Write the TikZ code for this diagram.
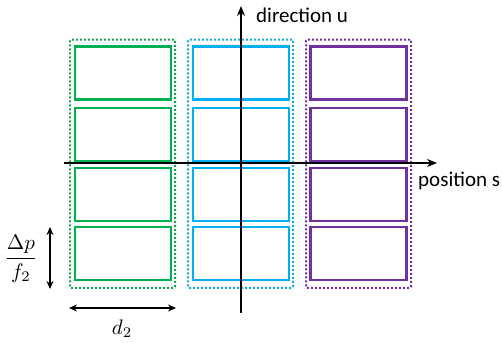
\documentclass[tikz,border=0pt]{standalone}
\usepackage{amsmath}
\usepackage{fontspec}
\setmainfont{Carlito}
\usetikzlibrary{arrows.meta}
\definecolor{cgreen}{RGB}{0,176,80}
\definecolor{cblue}{RGB}{0,176,240}
\definecolor{cpurple}{RGB}{112,48,160}
\begin{document}
\begin{tikzpicture}[x=1pt,y=-1pt,
  cell/.style={draw, line width=2.5pt, minimum width=96pt, minimum height=53pt, inner sep=0pt},
  group/.style={draw, dash pattern=on 2pt off 2pt, line width=2pt, minimum width=105pt, minimum height=248pt, inner sep=0pt, rounded corners=1pt},
  axis/.style={line width=2pt, -{Stealth[length=10pt,width=8pt]}},
  dim/.style={line width=1.2pt, {Stealth[length=8pt,width=7pt]}-{Stealth[length=8pt,width=7pt]}},
  lbl/.style={font=\fontsize{21}{24}\selectfont, inner sep=0pt},
  mlbl/.style={inner sep=0pt, scale=2.1}]
\useasboundingbox (0,0) rectangle (502,342);
% groups
\node[group, cgreen!85!black!90] (gG) at (122.5,163.75) {};
\node[group, cblue!85!gray] (gB) at (240.5,163.75) {};
\node[group, cpurple] (gP) at (358.5,163.75) {};
% cells
\foreach \r/\y in {1/73,2/134.5,3/194.5,4/253.5}{
  \node[cell, cgreen] (G\r) at (123,\y) {};
  \node[cell, cblue] (B\r) at (241,\y) {};
  \node[cell, cpurple] (P\r) at (358.5,\y) {};
}
% axes
\coordinate (hs) at (64,163);
\coordinate (he) at (437,163);
\coordinate (vs) at (241,313);
\coordinate (ve) at (241,6);
\draw[axis] (hs) -- (he);
\draw[axis] (vs) -- (ve);
\node[lbl, anchor=base west] (lu) at (256,23) {direction u};
\node[lbl, anchor=base west] (ls) at (418,186) {position s};
% dimensions
\coordinate (dv1) at (50,227);
\coordinate (dv2) at (50,289);
\draw[dim] (dv1) -- (dv2);
\coordinate (dh1) at (69,308);
\coordinate (dh2) at (176,308);
\draw[dim] (dh1) -- (dh2);
\node[mlbl] (lf) at (21,259) {$\dfrac{\Delta p}{f_2}$};
\node[mlbl] (ld) at (122,329) {$d_2$};
\end{tikzpicture}
\end{document}
